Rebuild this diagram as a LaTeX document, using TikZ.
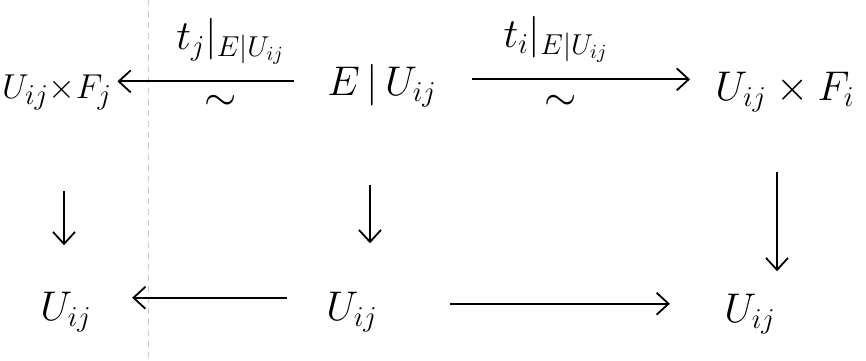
\documentclass[tikz,border=0pt]{standalone}
\usetikzlibrary{arrows.meta,calc}
\begin{document}
\begin{tikzpicture}[x=0.5pt,y=-0.5pt,
  obj/.style={inner sep=0pt, font=\fontsize{22}{26}\selectfont},
  objs/.style={inner sep=0pt, font=\fontsize{19}{23}\selectfont},
  lbl/.style={inner sep=0pt, font=\fontsize{20}{24}\selectfont},
  cd/.style={line width=0.9pt, -{Straight Barb[length=6pt,width=11pt,line width=0.9pt]}},
]
\useasboundingbox (0,0) rectangle (866,360);
% faint margin rule of the page
\draw[gray!40, dash pattern=on 3pt off 2.5pt, line width=0.4pt] (148,0) -- (148,360);

% objects
\node[objs, anchor=base] (tl) at (57,98)  {$U_{ij}{\times}F_j$};
\node[obj, anchor=base] (tm) at (382,95) {$E\,|\,U_{ij}$};
\node[obj, anchor=base] (tr) at (785,100) {$U_{ij}\times F_i$};
\node[obj, anchor=base] (bl) at (66,320)  {$U_{ij}$};
\node[obj, anchor=base] (bm) at (352,320) {$U_{ij}$};
\node[obj, anchor=base] (br) at (750,322) {$U_{ij}$};

% horizontal maps, top row
\coordinate (a1) at ($(tm.west)+(-33,-4)$);
\coordinate (a2) at ($(tl.east)+(5,0)$);
\draw[cd] (a1) -- (a2 |- a1);
\coordinate (b1) at ($(tm.east)+(35,-6)$);
\coordinate (b2) at ($(tr.west)+(-25,0)$);
\draw[cd] (b1) -- (b2 |- b1);
\node[lbl, anchor=base] (lj) at ($(a1)!0.5!(a2 |- a1)+(25,-32)$) {$t_j|_{E|U_{ij}}$};
\node[lbl] (sj) at ($(a1)!0.5!(a2 |- a1)+(15,22)$) {$\sim$};
\node[lbl, anchor=base] (li) at ($(b1)!0.5!(b2 |- b1)+(-25,-32)$) {$t_i|_{E|U_{ij}}$};
\node[lbl] (si) at ($(b1)!0.5!(b2 |- b1)+(-20,24)$) {$\sim$};

% horizontal maps, bottom row
\coordinate (c1) at ($(bm.west)+(-39,-14)$);
\coordinate (c2) at ($(bl.east)+(40,0)$);
\draw[cd] (c1) -- (c2 |- c1);
\coordinate (d1) at ($(bm.east)+(72,-8)$);
\coordinate (d2) at ($(br.west)+(-54,0)$);
\draw[cd] (d1) -- (d2 |- d1);

% vertical maps
\coordinate (v1) at ($(tl.south)+(7,80)$);
\coordinate (v2) at ($(bl.north)+(0,-46)$);
\draw[cd] (v1) -- (v1 |- v2);
\coordinate (w1) at ($(tm.south)+(-12,78)$);
\coordinate (w2) at ($(bm.north)+(0,-48)$);
\draw[cd] (w1) -- (w1 |- w2);
\coordinate (x1) at ($(tr.south)+(-8,60)$);
\coordinate (x2) at ($(br.north)+(0,-22)$);
\draw[cd] (x1) -- (x1 |- x2);
\end{tikzpicture}
\end{document}
